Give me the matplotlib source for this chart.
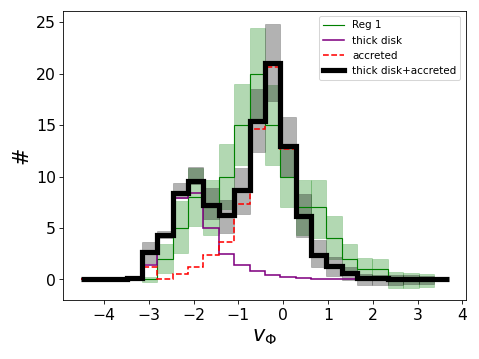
import matplotlib
matplotlib.use("Agg")
import matplotlib.pyplot as plt
import numpy as np

# bin edges of v_phi (24 bins)
edges = [-4.52, -4.18, -3.84, -3.49, -3.15, -2.81, -2.47, -2.12, -1.78,
         -1.44, -1.10, -0.75, -0.41, -0.07, 0.28, 0.62, 0.96, 1.30, 1.65,
         1.99, 2.33, 2.67, 3.02, 3.36, 3.70]

thick_disk = [0, 0, 0, 0.1, 1.4, 4.3, 7.95, 8.4, 5.0, 2.5, 1.38, 0.85,
              0.44, 0.28, 0.13, 0.06, 0.02, 0.01, 0.01, 0.01, 0.01, 0.0,
              0.0, 0.0]
accreted = [0, 0, 0, 0.05, 1.2, 0.05, 0.55, 1.2, 2.35, 3.65, 7.35, 14.6,
            20.6, 12.7, 6.0, 2.3, 1.25, 0.55, 0.1, 0.08, 0.06, 0.05, 0.04,
            0.04]
total = [0, 0, 0, 0.15, 2.65, 4.35, 8.45, 9.55, 7.25, 6.3, 8.65, 15.4,
         21.05, 13.0, 6.15, 2.4, 1.3, 0.6, 0.12, 0.1, 0.08, 0.06, 0.05,
         0.05]

# spread of the model, bins 4..22
total_lo = [1.56, 4.05, 7.9, 9.3, 5.9, 4.5, 6.4, 12.4, 17.3, 10.0, 4.14,
            1.2, 0.35, -0.05, -0.5, -0.5, -0.5, -0.45, -0.4]
total_hi = [3.66, 4.7, 9.4, 10.9, 8.85, 7.7, 10.8, 18.5, 24.8, 15.8, 8.3,
            3.8, 2.2, 1.2, 0.5, 0.45, 0.4, 0.4, 0.35]

# observed counts Reg 1, bins 4..22
reg1 = [0, 2, 5, 8, 7, 10, 15, 20, 15, 10, 7, 7, 4, 2, 1, 1, 0, 0, 0]
reg1_lo = [-0.23, 0.59, 2.6, 5.15, 4.35, 6.85, 11.1, 15.55, 11.15, 7.06,
           4.35, 4.0, 2.0, 0.6, 0.0, 0.0, -0.8, -0.8, -0.75]
reg1_hi = [0.25, 3.45, 7.6, 10.85, 9.65, 13.15, 19.0, 24.45, 18.85, 12.7,
           9.65, 9.7, 6.15, 3.4, 2.05, 2.0, 0.75, 0.6, 0.55]

first = 4
sub_edges = np.array(edges[first:first + len(reg1) + 1])
left = sub_edges[:-1]
width = np.diff(sub_edges)


def band(ax, lo, hi, color):
    lo = np.array(lo)
    hi = np.array(hi)
    ax.bar(left, hi - lo, bottom=lo, width=width, align="edge",
           color=color, alpha=0.3, edgecolor=color, lw=0.6)


fig, ax = plt.subplots(figsize=(6.4, 4.8), dpi=74.85)
fig.subplots_adjust(left=0.132, right=0.972, bottom=0.164, top=0.969)

band(ax, reg1_lo, reg1_hi, "green")
band(ax, total_lo, total_hi, "k")

ax.stairs(reg1, sub_edges, color="green", lw=1.1, label="Reg 1")
ax.stairs(thick_disk, edges, color="purple", lw=1.5, label="thick disk")
ax.stairs(accreted, edges, color="red", lw=1.5, ls="--", label="accreted")
ax.stairs(total, edges, color="k", lw=5, label="thick disk+accreted")

ax.set_xlim(-4.91, 4.07)
ax.set_ylim(-2.0, 26.1)
ax.set_xticks(range(-4, 5))
ax.set_yticks(range(0, 26, 5))
ax.tick_params(labelsize=15)
ax.set_xlabel(r"$v_\Phi$", fontsize=20)
ax.set_ylabel("#", fontsize=20)
ax.legend(loc="upper right", fontsize=10)

fig.savefig("out.png", dpi=74.85)
